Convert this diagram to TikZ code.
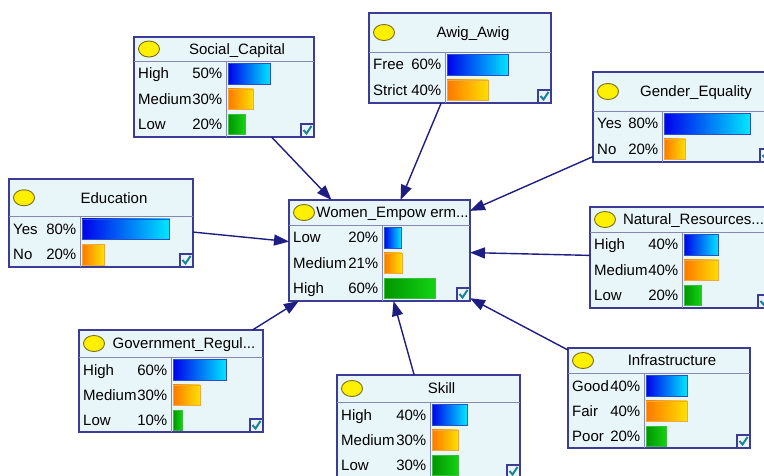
\documentclass[tikz,border=0pt]{standalone}
\usepackage{fontspec}
\setmainfont{Liberation Sans}
\usetikzlibrary{calc}
\usetikzlibrary{arrows.meta}
\definecolor{boxfill}{RGB}{232,245,249}
\definecolor{boxline}{RGB}{60,60,150}
\definecolor{sepline}{RGB}{135,135,180}
\definecolor{arrline}{RGB}{30,30,130}
\definecolor{bulbfill}{RGB}{255,240,0}
\definecolor{bulbline}{RGB}{120,110,20}
\definecolor{tickcol}{RGB}{30,130,150}
\tikzset{
  bnbox/.style={draw=boxline,fill=boxfill,line width=1.4pt,inner sep=0pt,outer sep=0pt,anchor=north west},
  sep/.style={draw=sepline,line width=0.8pt},
  bulb/.style={draw=bulbline,fill=bulbfill,line width=0.9pt},
  txt/.style={inner sep=0pt,font=\fontsize{15}{18}\selectfont},
  bar1/.style={left color={rgb,255:red,0;green,0;blue,235},right color={rgb,255:red,0;green,232;blue,255},draw={rgb,255:red,40;green,80;blue,200},line width=0.5pt},
  bar2/.style={left color={rgb,255:red,255;green,120;blue,0},right color={rgb,255:red,255;green,225;blue,0},draw={rgb,255:red,240;green,170;blue,60},line width=0.5pt},
  bar3/.style={left color={rgb,255:red,0;green,150;blue,0},right color={rgb,255:red,20;green,210;blue,20},draw={rgb,255:red,60;green,190;blue,60},line width=0.5pt},
  chk/.style={draw=boxline,line width=1.2pt},
  arr/.style={draw=arrline,line width=1.4pt,-{Triangle[length=15pt,width=11pt]}}
}
\newcommand{\bnbox}[9]{%
  \node[bnbox,minimum width=#4pt,minimum height=#5pt] (#1) at (#2,#3) {};
  \draw[sep] (#2,#3+#6) -- ++(#4,0);
  \draw[sep] (#2+#7,#3+#6) -- (#2+#7,#3+#5);
  \draw[bulb] (#2+15,#3+#6/2) ellipse[x radius=10.5pt,y radius=8pt];
  \node[txt,anchor=base] at ({#2+(25+#4)/2+0.5},#3+#6/2+5.4) {#8};
  \foreach \lab/\pct [count=\i] in {#9} {
    \pgfmathsetmacro\rowy{#3+#6+(\i-1)*25.3}
    \pgfmathsetmacro\barw{\pct*0.0097*(#4-#7)}
    \node[txt,anchor=base west] at (#2+4,\rowy+18) {\lab};
    \node[txt,anchor=base east] at (#2+#7-3.5,\rowy+18) {\pct\%};
    \shade[bar\i] (#2+#7+2,\rowy+2.5) rectangle ++(\barw,20.5);
  }
  \draw[chk] (#2+#4,#3+#5) rectangle ++(-13,-13);
  \draw[tickcol,line width=2pt] (#2+#4-10.5,#3+#5-7) -- ++(3,3.5) -- ++(5,-7.5);
}
\begin{document}
\begin{tikzpicture}[x=1pt,y=-1pt]
\useasboundingbox (0,0) rectangle (764,476);
\fill[white] (0,0) rectangle (764,476);
\clip (0,0) rectangle (764,476);
\bnbox{social}{134}{37}{180}{100}{24}{92}{Social\_Capital}{High/50,Medium/30,Low/20}
\bnbox{awig}{369}{13}{182}{90}{39}{76}{Awig\_Awig}{Free/60,Strict/40}
\bnbox{gender}{593}{72}{180}{90}{39}{69}{Gender\_Equality}{Yes/80,No/20}
\bnbox{edu}{9}{179}{184}{88}{37.5}{71}{Education}{Yes/80,No/20}
\bnbox{women}{289}{200}{181}{101}{25}{93}{Women\_Empow erm...}{Low/20,Medium/21,High/60}
\bnbox{natres}{590}{207}{181}{101}{25}{92}{Natural\_Resources...}{High/40,Medium/40,Low/20}
\bnbox{gov}{79}{330}{184}{102}{27}{92}{Government\_Regul...}{High/60,Medium/30,Low/10}
\bnbox{skill}{337}{375}{183}{103}{27}{93}{Skill}{High/40,Medium/30,Low/30}
\bnbox{infra}{568}{348}{182}{100}{25}{76}{Infrastructure}{Good/40,Fair/40,Poor/20}
\foreach \src in {social,awig,gender,edu,natres,gov,skill,infra}
  \draw[arr] (\src) -- (women);
\end{tikzpicture}
\end{document}
